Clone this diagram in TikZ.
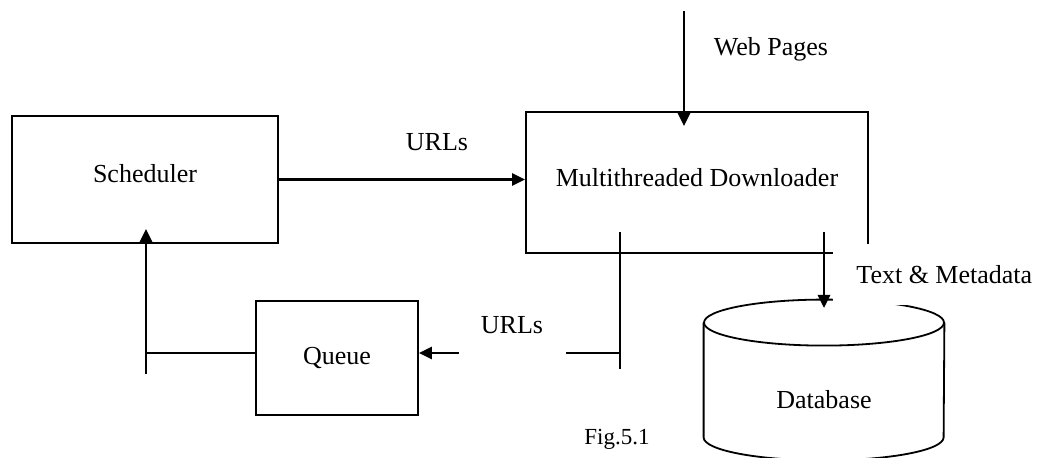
\documentclass[tikz,border=0pt]{standalone}
\usepackage{fontspec}
\setmainfont{Liberation Serif}
\usetikzlibrary{shapes.geometric, arrows.meta, positioning, calc}

\begin{document}
\begin{tikzpicture}[
    x=0.5pt, y=-0.5pt,
    every node/.style={font=\fontsize{13}{15}\selectfont},
    block/.style={draw, line width=0.9pt, inner sep=0pt},
    store/.style={inner sep=0pt, minimum width=120pt, minimum height=57pt},
    flow/.style={-{Triangle[length=6.5pt, width=6pt]}, line width=1.4pt},
    wire/.style={line width=0.9pt},
    mask/.style={fill=white, inner sep=0pt}
]
    \useasboundingbox (0,0) rectangle (1038,458);

    % Blocks
    \node[block, minimum width=133pt, minimum height=63.5pt, text depth=6.5pt] (sched) at (145,179.5) {Scheduler};
    \node[block, minimum width=171pt, minimum height=70.5pt, text depth=5pt] (dl) at (697,182.5) {Multithreaded Downloader};
    \node[block, minimum width=81pt, minimum height=57pt] (queue) at (337,358) {Queue};
    \node[store, text depth=4pt] (db) at (824,403) {Database};

    % Database outline
    \draw[wire] ($(db.north)+(0,-23)$) ellipse [x radius=120, y radius=23];
    \draw[wire] ($(db.north west)+(0,-23)$) -- ($(db.south west)+(0,-23)$)
        arc [start angle=180, end angle=0, x radius=120, y radius=23]
        -- ($(db.north east)+(0,-23)$);

    % Free ends
    \coordinate (web) at (684,11);
    \coordinate (tap) at (620,353);
    \coordinate (tapTop) at (620,232);
    \coordinate (tapEnd) at (620,369);
    \coordinate (back) at (146,374);
    \coordinate (text) at (824,232);
    \coordinate (textEnd) at (824,308);

    % Flows
    \draw[flow] (web) -- ($(web |- dl.north)+(0,15)$);
    \draw[flow] (sched.east) -- (sched.east -| dl.west);
    \draw[wire] (tapTop) -- (tapEnd);
    \draw[flow] (tap) -- (tap -| queue.east);
    \draw[wire] (tap -| queue.west) -- (tap -| back);
    \draw[flow] (back) -- ($(back |- sched.south)+(0,-15)$);
    \draw[flow] (text) -- (textEnd);

    % Labels
    \node at (771,49) {Web Pages};
    \node at (437,142) {URLs};
    \node[mask, minimum width=53.5pt, minimum height=35pt] at (512,325) {URLs};
    \node[mask, anchor=north west, inner xsep=11.5pt, minimum height=30.5pt] at (833,244) {Text \& Metadata};
    \node[font=\fontsize{11.5}{13}\selectfont] at (617,439) {Fig.5.1};
\end{tikzpicture}
\end{document}
